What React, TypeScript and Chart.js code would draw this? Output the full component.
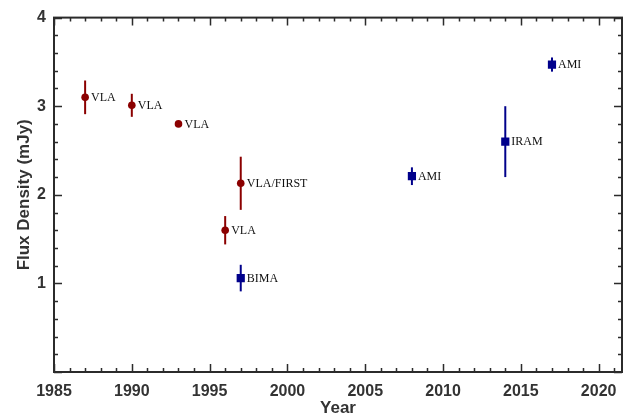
import React, { useEffect, useRef } from "react";
import { Chart, registerables } from "chart.js";

Chart.register(...registerables);

// ---- Data ----
const vlaYears = [1987, 1990, 1993, 1996, 1997];
const vlaFlux = [3.1, 3.01, 2.8, 1.6, 2.13];
const vlaErr = [0.19, 0.13, 0, 0.16, 0.3];
const vlaLabels = ["VLA", "VLA", "VLA", "VLA", "VLA/FIRST"];

const mmYears = [1997, 2008, 2014, 2017];
const mmFlux = [1.06, 2.21, 2.6, 3.47];
const mmErr = [0.15, 0.1, 0.4, 0.08];
const mmLabels = ["BIMA", "AMI", "IRAM", "AMI"];

const xMin = 1985;
const xMax = 2021.5;
const yMin = 0;
const yMax = 4;
const xMajorStep = 5;
const xMinorStep = 1;
const yMajorStep = 1;
const yMinorStep = 0.2;

const RED = "#8b0000";
const BLUE = "#00008b";
const AXIS = "#2b2b2b";

const errLabelPlugin = {
  id: "errLabel",
  beforeDatasetsDraw(chart: any) {
    const { ctx } = chart;
    const xs = chart.scales.x;
    const ys = chart.scales.y;
    chart.data.datasets.forEach((ds: any) => {
      ctx.save();
      ctx.strokeStyle = ds.borderColor;
      ctx.lineWidth = 2;
      ds.data.forEach((p: any) => {
        if (!p.err) return;
        const px = xs.getPixelForValue(p.x);
        ctx.beginPath();
        ctx.moveTo(px, ys.getPixelForValue(p.y - p.err));
        ctx.lineTo(px, ys.getPixelForValue(p.y + p.err));
        ctx.stroke();
      });
      ctx.restore();
    });
  },
  afterDatasetsDraw(chart: any) {
    const { ctx, chartArea } = chart;
    const xs = chart.scales.x;
    const ys = chart.scales.y;
    // labels
    ctx.save();
    ctx.fillStyle = "#111";
    ctx.font = "12px 'Liberation Serif', serif";
    ctx.textAlign = "left";
    ctx.textBaseline = "middle";
    chart.data.datasets.forEach((ds: any) => {
      ds.data.forEach((p: any) => {
        ctx.fillText(p.label, xs.getPixelForValue(p.x) + 6, ys.getPixelForValue(p.y) + 0.5);
      });
    });
    ctx.restore();

    // frame and inside ticks
    ctx.save();
    ctx.strokeStyle = AXIS;
    ctx.lineWidth = 2;
    const { left, right, top, bottom } = chartArea;
    ctx.strokeRect(left, top, right - left, bottom - top);
    ctx.lineWidth = 1.5;
    ctx.beginPath();
    for (let v = xMin; v <= xMax + 1e-9; v += xMinorStep) {
      const major = Math.abs(v / xMajorStep - Math.round(v / xMajorStep)) < 1e-6;
      const len = major ? 8 : 4;
      const px = Math.round(xs.getPixelForValue(v)) + 0.5;
      ctx.moveTo(px, bottom);
      ctx.lineTo(px, bottom - len);
      ctx.moveTo(px, top);
      ctx.lineTo(px, top + len);
    }
    const n = Math.round((yMax - yMin) / yMinorStep);
    for (let i = 0; i <= n; i++) {
      const v = yMin + i * yMinorStep;
      const major = Math.abs(v / yMajorStep - Math.round(v / yMajorStep)) < 1e-6;
      const len = major ? 8 : 4;
      const py = Math.round(ys.getPixelForValue(v)) + 0.5;
      ctx.moveTo(left, py);
      ctx.lineTo(left + len, py);
      ctx.moveTo(right, py);
      ctx.lineTo(right - len, py);
    }
    ctx.stroke();
    ctx.restore();
  },
};

export default function App() {
  const ref = useRef<HTMLCanvasElement | null>(null);

  useEffect(() => {
    document.body.style.margin = "0";
    const canvas = ref.current;
    if (!canvas) return;
    const vla = vlaYears.map((x, i) => ({ x, y: vlaFlux[i], err: vlaErr[i], label: vlaLabels[i] }));
    const mm = mmYears.map((x, i) => ({ x, y: mmFlux[i], err: mmErr[i], label: mmLabels[i] }));
    const tickFont = { family: "'Liberation Sans', Arial, sans-serif", size: 16, weight: "bold" as const };
    const titleFont = { family: "'Liberation Sans', Arial, sans-serif", size: 17, weight: "bold" as const };
    const chart = new Chart(canvas, {
      type: "scatter",
      data: {
        datasets: [
          {
            label: "VLA",
            data: vla,
            pointStyle: "circle",
            pointRadius: 3.8,
            backgroundColor: RED,
            borderColor: RED,
            borderWidth: 0,
          },
          {
            label: "mm",
            data: mm,
            pointStyle: "rect",
            pointRadius: 5.8,
            backgroundColor: BLUE,
            borderColor: BLUE,
            borderWidth: 0,
          },
        ],
      },
      options: {
        animation: false,
        responsive: false,
        maintainAspectRatio: false,
        events: [],
        layout: { padding: { left: 0, right: 11, top: 17, bottom: 0 } },
        plugins: { legend: { display: false }, tooltip: { enabled: false } },
        scales: {
          x: {
            type: "linear",
            min: xMin,
            max: xMax,
            afterFit(scale: any) {
              scale.height = 47;
            },
            grid: { display: false, drawTicks: false },
            border: { display: false },
            ticks: {
              stepSize: xMajorStep,
              includeBounds: false,
              padding: 10,
              color: "#333",
              font: tickFont,
              maxRotation: 0,
              autoSkip: false,
              callback: (v: any) => (Number.isInteger(v) && v % xMajorStep === 0 ? String(v) : ""),
            },
            title: { display: true, text: "Year", color: "#333", font: titleFont, padding: { top: 0, bottom: 0 } },
          },
          y: {
            type: "linear",
            min: yMin,
            max: yMax,
            afterFit(scale: any) {
              scale.width = 54;
            },
            grid: { display: false, drawTicks: false },
            border: { display: false },
            ticks: {
              stepSize: yMajorStep,
              padding: 8,
              color: "#333",
              font: tickFont,
              callback: (v: any) => (v === 0 ? "" : String(v)),
            },
            title: {
              display: true,
              text: "Flux Density (mJy)",
              color: "#333",
              font: titleFont,
              padding: { top: 14, bottom: 0 },
            },
          },
        },
      },
      plugins: [errLabelPlugin],
    });
    return () => chart.destroy();
  }, []);

  return (
    <div style={{ position: "absolute", left: 0, top: 0, width: 633, height: 419 }}>
      <canvas ref={ref} width={633} height={419} style={{ width: 633, height: 419, display: "block" }} />
    </div>
  );
}
